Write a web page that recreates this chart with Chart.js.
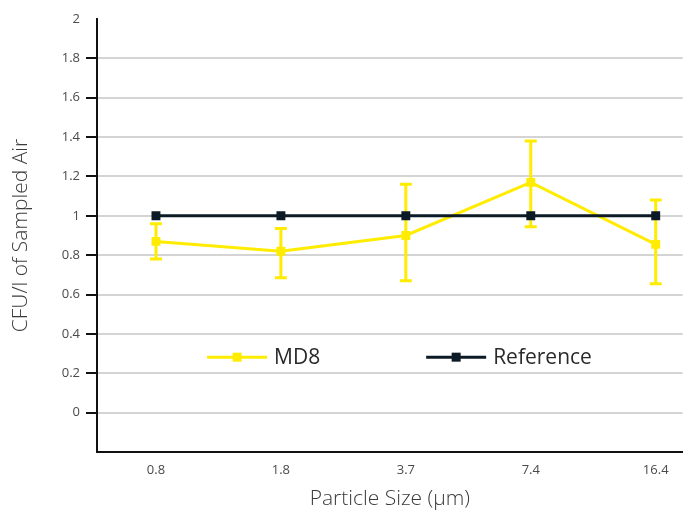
<!DOCTYPE html>
<html>
<head>
<meta charset="utf-8">
<script src="https://cdn.jsdelivr.net/npm/chart.js@4/dist/chart.umd.min.js"></script>
<style>
  html, body { margin: 0; padding: 0; background: #fff; }
  #wrap { width: 689px; height: 516px; position: relative; }
</style>
</head>
<body>
<div id="wrap"><canvas id="c" width="689" height="516"></canvas></div>
<script>
// ---- data ----
const categories = ['0.8', '1.8', '3.7', '7.4', '16.4'];
const md8Values = [0.87, 0.82, 0.90, 1.17, 0.855];
const md8ErrLow = [0.78, 0.685, 0.67, 0.945, 0.655];
const md8ErrHigh = [0.96, 0.935, 1.16, 1.38, 1.08];
const referenceValues = [1, 1, 1, 1, 1];
const yTicks = [0, 0.2, 0.4, 0.6, 0.8, 1, 1.2, 1.4, 1.6, 1.8, 2];

const YELLOW = '#FFEC00';
const NAVY = '#0B1A24';
const FONT = '"Open Sans", Lato, sans-serif';

const errorBarPlugin = {
  id: 'errorBars',
  beforeDatasetsDraw(chart) {
    const ctx = chart.ctx, xs = chart.scales.x, ys = chart.scales.y;
    ctx.save();
    ctx.strokeStyle = YELLOW;
    ctx.lineWidth = 3;
    categories.forEach((c, i) => {
      const x = xs.getPixelForValue(i);
      const yl = ys.getPixelForValue(md8ErrLow[i]);
      const yh = ys.getPixelForValue(md8ErrHigh[i]);
      ctx.beginPath();
      ctx.moveTo(x, yl); ctx.lineTo(x, yh);
      ctx.moveTo(x - 6, yl); ctx.lineTo(x + 6, yl);
      ctx.moveTo(x - 6, yh); ctx.lineTo(x + 6, yh);
      ctx.stroke();
    });
    ctx.restore();
  }
};

const legendPlugin = {
  id: 'innerLegend',
  afterDraw(chart) {
    const ctx = chart.ctx, a = chart.chartArea;
    const y = a.top + (a.bottom - a.top) * 0.781;
    const items = [
      { label: 'MD8', color: YELLOW, fx: 0.186 },
      { label: 'Reference', color: NAVY, fx: 0.556 }
    ];
    ctx.save();
    items.forEach(it => {
      const x0 = a.left + 592 * it.fx;
      ctx.strokeStyle = it.color;
      ctx.lineWidth = 3;
      ctx.beginPath(); ctx.moveTo(x0, y); ctx.lineTo(x0 + 60, y); ctx.stroke();
      ctx.fillStyle = it.color;
      ctx.fillRect(x0 + 30 - 4.5, y - 4.5, 9, 9);
      ctx.fillStyle = '#2a2a2a';
      ctx.font = '21px ' + FONT;
      ctx.textBaseline = 'middle';
      ctx.textAlign = 'left';
      ctx.fillText(it.label, x0 + 67, y + 1);
    });
    ctx.restore();
  }
};

new Chart(document.getElementById('c'), {
  type: 'line',
  data: {
    datasets: [
      {
        label: 'Reference',
        data: referenceValues.map((v, i) => ({ x: i, y: v })),
        borderColor: NAVY,
        backgroundColor: NAVY,
        borderWidth: 3,
        pointStyle: 'rect',
        pointRadius: 6.3,
        pointBorderWidth: 0,
        order: 0
      },
      {
        label: 'MD8',
        data: md8Values.map((v, i) => ({ x: i, y: v })),
        borderColor: YELLOW,
        backgroundColor: YELLOW,
        borderWidth: 3,
        pointStyle: 'rect',
        pointRadius: 6.3,
        pointBorderWidth: 0,
        order: 1
      }
    ]
  },
  options: {
    responsive: false,
    animation: false,
    layout: { padding: { top: 19, right: 0, left: 0, bottom: 0 } },
    plugins: { legend: { display: false }, tooltip: { enabled: false } },
    scales: {
      x: {
        type: 'linear',
        min: -0.472,
        max: 4.216,
        afterBuildTicks: s => { s.ticks = categories.map((c, i) => ({ value: i })); },
        afterFit: s => { s.height = 64; s.paddingLeft = 0; s.paddingRight = 0; },
        grid: { display: false, drawTicks: false },
        border: { display: true, color: '#111', width: 2 },
        ticks: {
          callback: (v) => categories[v] !== undefined ? categories[v] : '',
          color: '#4a4a4a',
          font: { family: FONT, size: 13 },
          padding: 10,
          maxRotation: 0,
          autoSkip: false
        },
        title: {
          display: true,
          text: 'Particle Size (µm)',
          color: '#3a3a3a',
          font: { family: FONT, size: 21, weight: 300 },
          padding: { top: 10 }
        }
      },
      y: {
        min: -0.2,
        max: 2,
        afterBuildTicks: s => { s.ticks = [-0.2].concat(yTicks).map(v => ({ value: v })); },
        afterFit: s => { s.width = 97; s.paddingTop = 0; s.paddingBottom = 0; },
        grid: {
          color: ctx => (ctx.tick && (ctx.tick.value === 2 || ctx.tick.value === -0.2)) ? 'rgba(0,0,0,0)' : '#d4d4d4',
          tickColor: ctx => (ctx.tick && (ctx.tick.value === 2 || ctx.tick.value === -0.2)) ? 'rgba(0,0,0,0)' : '#111',
          lineWidth: 2,
          tickLength: 11,
          tickWidth: 2
        },
        border: { display: true, color: '#111', width: 2 },
        ticks: {
          callback: v => v < -0.1 ? '' : String(+v.toFixed(1)),
          color: '#4a4a4a',
          font: { family: FONT, size: 13 },
          padding: 6
        },
        title: {
          display: true,
          text: 'CFU/l of Sampled Air',
          color: '#3a3a3a',
          font: { family: FONT, size: 21, weight: 300 },
          padding: { top: 8, bottom: 0 }
        }
      }
    }
  },
  plugins: [errorBarPlugin, legendPlugin]
});
</script>
</body>
</html>
